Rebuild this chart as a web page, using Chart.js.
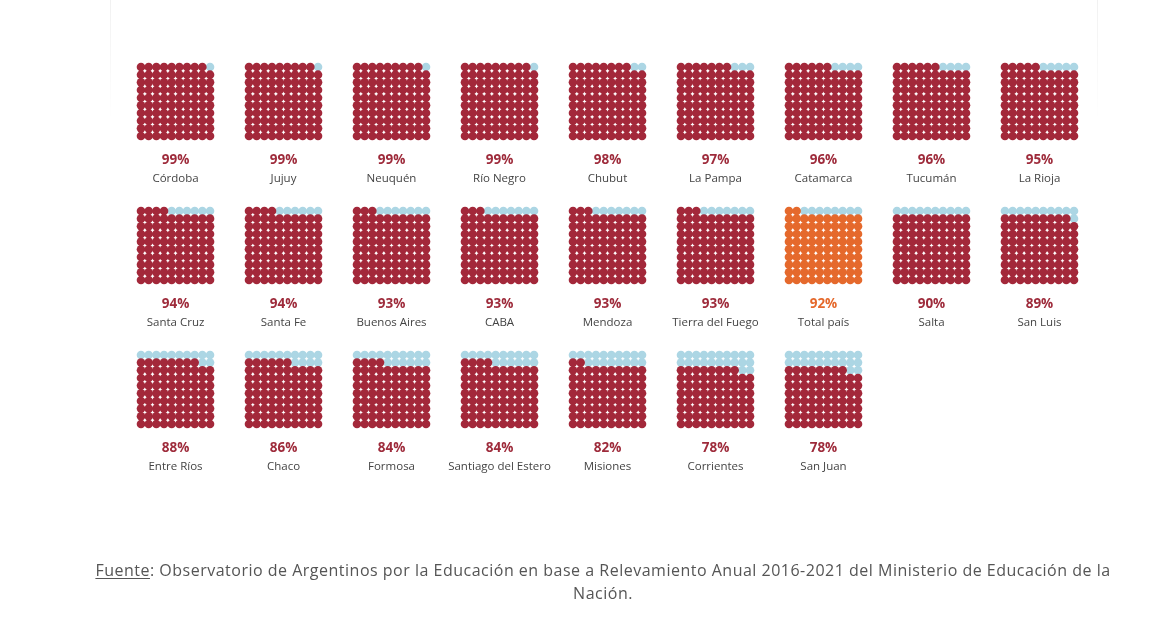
<!DOCTYPE html>
<html>
<head>
<meta charset="utf-8">
<script src="https://cdn.jsdelivr.net/npm/chart.js@4/dist/chart.umd.min.js"></script>
<style>
  html, body { margin: 0; padding: 0; background: #fff; }
  #wrap { position: relative; width: 1176px; height: 623px; overflow: hidden; }
  #marco { position: absolute; left: 110px; top: 0; width: 986px; height: 120px;
    border-left: 1px solid #f1f1f1; border-right: 1px solid #f1f1f1;
    -webkit-mask-image: linear-gradient(#000, transparent); mask-image: linear-gradient(#000, transparent); }
  #grafico { position: absolute; left: 0; top: 0; }
  #fuente { position: absolute; left: 40px; width: 1126px; top: 559px; text-align: center;
    font-family: "Open Sans", sans-serif; font-size: 16px; line-height: 23px; color: #555;
    letter-spacing: 0.5px; }
  #fuente u { text-underline-offset: 2px; }
</style>
</head>
<body>
<div id="wrap">
  <div id="marco"></div>
  <canvas id="grafico" width="1176" height="623"></canvas>
  <div id="fuente"><u>Fuente</u>: Observatorio de Argentinos por la Educación en base a Relevamiento Anual 2016-2021 del Ministerio de Educación de la<br>Nación.</div>
</div>
<script>
// jurisdicciones y porcentaje (orden del gráfico)
var provincias = ["Córdoba", "Jujuy", "Neuquén", "Río Negro", "Chubut", "La Pampa", "Catamarca", "Tucumán", "La Rioja",
    "Santa Cruz", "Santa Fe", "Buenos Aires", "CABA", "Mendoza", "Tierra del Fuego", "Total país", "Salta", "San Luis",
    "Entre Ríos", "Chaco", "Formosa", "Santiago del Estero", "Misiones", "Corrientes", "San Juan"];
var valores = [99, 99, 99, 99, 98, 97, 96, 96, 95,
    94, 94, 93, 93, 93, 93, 92, 90, 89,
    88, 86, 84, 84, 82, 78, 78];
var destacado = "Total país";

var ROJO = '#a3283a';
var NARANJA = '#e5692c';
var CELESTE = '#acd6e4';

var porFila = 9;
var pasoX = 14.08;   // separacion entre waffles (en puntos)
var pasoY = 18.77;

var llenos = [], llenosTotal = [], vacios = [];
valores.forEach(function (v, k) {
    var bx = (k % porFila) * pasoX;
    var by = Math.floor(k / porFila) * pasoY;
    for (var i = 0; i < 100; i++) {
        // se llena desde abajo a la izquierda, fila por fila
        var col = i % 10;
        var fila = 9 - Math.floor(i / 10);
        var p = { x: bx + col, y: by + fila };
        if (i < v) {
            (provincias[k] === destacado ? llenosTotal : llenos).push(p);
        } else {
            vacios.push(p);
        }
    }
});

var etiquetas = {
    id: 'etiquetas',
    afterDraw: function (chart) {
        var c = chart.ctx, xs = chart.scales.x, ys = chart.scales.y;
        c.save();
        c.textAlign = 'center';
        c.textBaseline = 'middle';
        valores.forEach(function (v, k) {
            var cx = xs.getPixelForValue((k % porFila) * pasoX + 4.5);
            var by = Math.floor(k / porFila) * pasoY;
            c.font = 'bold 13.5px "Open Sans", sans-serif';
            c.fillStyle = provincias[k] === destacado ? NARANJA : '#9e2b3b';
            c.fillText(v + '%', cx, ys.getPixelForValue(by + 12.13));
            c.font = '11.5px "Open Sans", sans-serif';
            c.fillStyle = '#444';
            c.fillText(provincias[k], cx, ys.getPixelForValue(by + 14.63));
        });
        c.restore();
    }
};

var ctx = document.getElementById('grafico').getContext('2d');
var grafico = new Chart(ctx, {
    type: 'scatter',
    data: {
        datasets: [
            { data: llenos, backgroundColor: ROJO, pointRadius: 4.3, borderWidth: 0 },
            { data: llenosTotal, backgroundColor: NARANJA, pointRadius: 4.3, borderWidth: 0 },
            { data: vacios, backgroundColor: CELESTE, pointRadius: 4.3, borderWidth: 0 }
        ]
    },
    options: {
        responsive: false,
        animation: false,
        layout: { padding: 0, autoPadding: false },
        plugins: { legend: { display: false }, tooltip: { enabled: false } },
        scales: {
            x: { type: 'linear', display: false, min: -18.383, max: 134.94 },
            y: { type: 'linear', display: false, reverse: true, min: -8.735, max: 72.49 }
        }
    },
    plugins: [etiquetas]
});
</script>
</body>
</html>
